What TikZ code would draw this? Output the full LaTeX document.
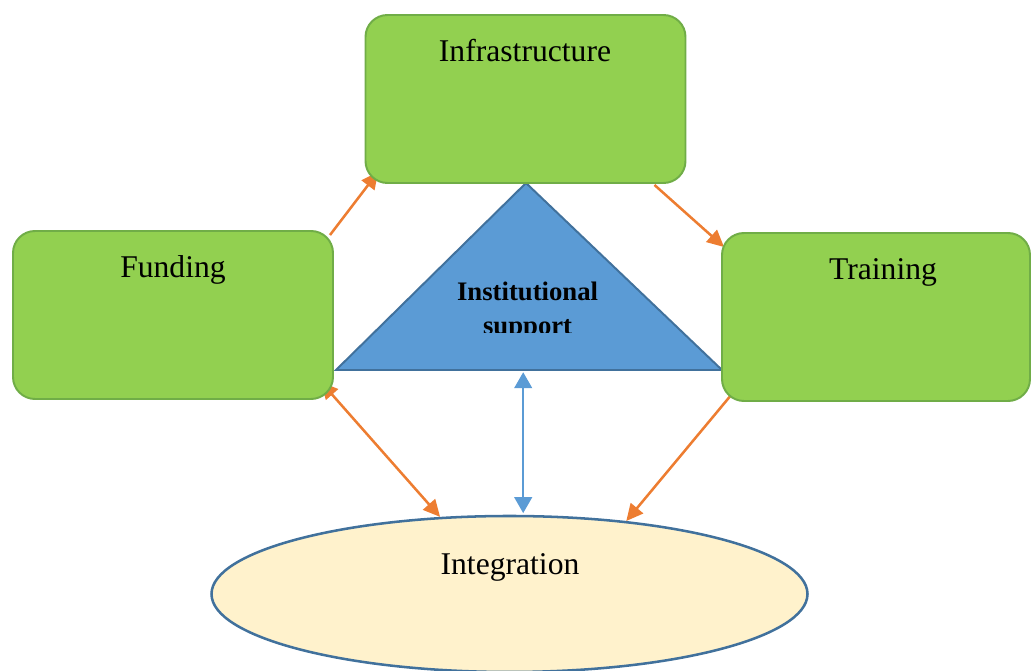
\documentclass[tikz,border=0pt]{standalone}
\usepackage{fontspec}
\setmainfont{Liberation Serif}
\usetikzlibrary{arrows.meta,calc,shapes.geometric,backgrounds}

\definecolor{boxgreen}{HTML}{92D050}
\definecolor{boxedge}{HTML}{70AD47}
\definecolor{triblue}{HTML}{5B9BD5}
\definecolor{triedge}{HTML}{41719C}
\definecolor{ovalfill}{HTML}{FFF2CC}
\definecolor{arrorange}{HTML}{ED7D31}

\begin{document}
\begin{tikzpicture}[
    greenbox/.style={draw=boxedge, fill=boxgreen, line width=1.4pt, rounded corners=0.55cm, minimum height=4.2cm, inner sep=0pt},
    lbl/.style={anchor=base, font=\fontsize{22.5}{27}\selectfont},
    boldlbl/.style={anchor=base, font=\fontsize{19}{22}\selectfont\bfseries},
    orangearr/.style={draw=arrorange, line width=1.8pt, -{Triangle[length=0.42cm, width=0.4cm]}},
    bluearr/.style={draw=triblue, line width=1.8pt, {Triangle[length=0.4cm, width=0.44cm]}-{Triangle[length=0.4cm, width=0.44cm]}}
  ]
  \useasboundingbox (0,0) rectangle (25.8,16.775);

  % the three boxes
  \node[greenbox, minimum width=8.0cm] (infra) at (13.1375,14.3) {};
  \node[greenbox, minimum width=8.0cm] (fund) at (4.325,8.9) {};
  \node[greenbox, minimum width=7.7cm] (train) at (21.9,8.85) {};
  \node[lbl] (infratext) at (13.125,15.23) {Infrastructure};
  \node[lbl] (fundtext) at (4.325,9.825) {Funding};
  \node[lbl] (traintext) at (22.075,9.775) {Training};

  % text box in the triangle, cut off at the bottom
  \begin{scope}
    \clip (9,8.46) rectangle (17,11);
    \node[boldlbl] (insttext) at (13.19,9.27) {Institutional};
    \node[boldlbl] (supptext) at (13.19,8.42) {support};
  \end{scope}

  \begin{pgfonlayer}{background}
    \coordinate (apex) at (13.15,12.2);
    \coordinate (tl) at (8.4,7.525);
    \coordinate (tr) at (18.05,7.525);
    \coordinate (tribase) at (13.08,7.47);
    \draw[draw=triedge, fill=triblue, line width=1.4pt] (tl) -- (apex) -- (tr) -- cycle;

    \node[ellipse, draw=triedge, fill=ovalfill, line width=1.8pt, minimum width=14.9cm, minimum height=3.9cm, inner sep=0pt] (integ) at (12.7375,1.925) {};

    \draw[orangearr] ($(fund.north east)+(-0.1,-0.125)$) -- ($(infra.south west)+(0.34,0.3)$);
    \draw[orangearr] ($(infra.south east)+(-0.8,-0.025)$) -- ($(train.north west)+(0.075,-0.375)$);
    \draw[orangearr, {Triangle[length=0.42cm, width=0.4cm]}-{Triangle[length=0.42cm, width=0.4cm]}] ($(fund.south east)+(-0.325,0.45)$) -- (integ.132);
    \draw[orangearr] ($(train.south west)+(0.3,0.23)$) -- (integ.32);
    \draw[bluearr] (tribase) -- ($(integ.north -| tribase)+(0,0.04)$);
  \end{pgfonlayer}
  \node[lbl] (integtext) at (12.75,2.4) {Integration};
\end{tikzpicture}
\end{document}
